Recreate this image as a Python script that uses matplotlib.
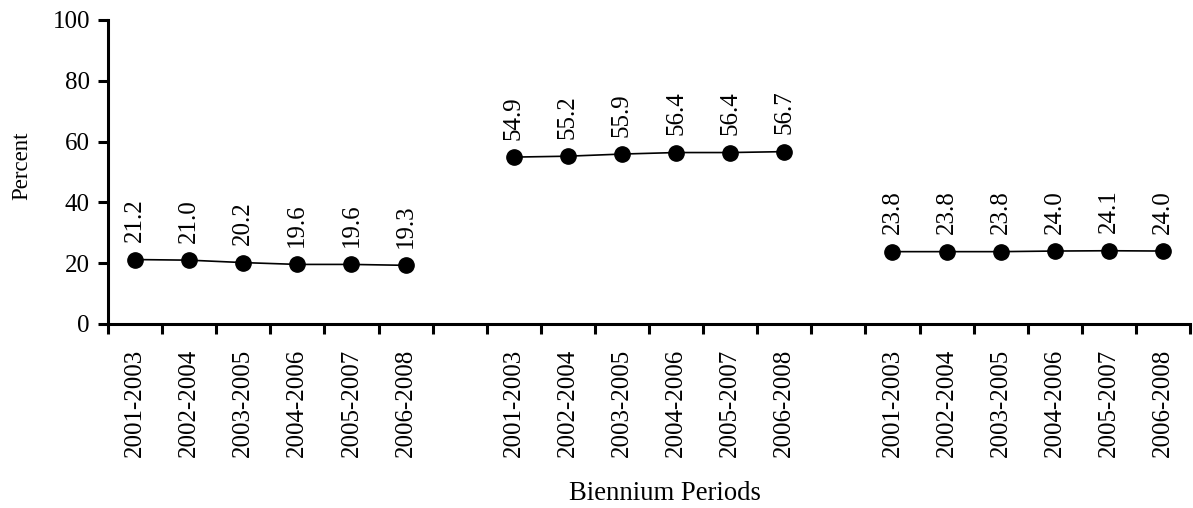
import matplotlib.pyplot as plt
import numpy as np

plt.rcParams['font.family'] = ['Liberation Serif', 'DejaVu Serif']

# data
periods = ['2001-2003', '2002-2004', '2003-2005', '2004-2006', '2005-2007', '2006-2008']
group1 = [21.2, 21.0, 20.2, 19.6, 19.6, 19.3]
group2 = [54.9, 55.2, 55.9, 56.4, 56.4, 56.7]
group3 = [23.8, 23.8, 23.8, 24.0, 24.1, 24.0]
groups = [group1, group2, group3]

n = len(periods)
step = n + 1  # one empty category between groups
n_slots = step * len(groups) - 1

W, H = 1193, 508
fig = plt.figure(figsize=(W / 100, H / 100), dpi=100)
ax = fig.add_axes([108 / W, 184 / H, 1082 / W, 304 / H])

fs = 18
for g, vals in enumerate(groups):
    xs = np.arange(n) + g * step
    ax.plot(xs, vals, color='black', lw=1.2, marker='o', markersize=11,
            markerfacecolor='black', markeredgecolor='black', zorder=3)
    for x, v in zip(xs, vals):
        ax.annotate(f'{v:.1f}', (x, v), xytext=(0, 12.5), textcoords='offset points',
                    rotation=90, ha='center', va='bottom', fontsize=fs)

# category axis with an empty slot between groups
labels = [''] * n_slots
for g in range(len(groups)):
    for i, p in enumerate(periods):
        labels[g * step + i] = p
ax.set_xticks(np.arange(n_slots))
ax.set_xticklabels(labels, rotation=90, fontsize=fs)
ax.set_xticks(np.arange(-0.5, n_slots, 1), minor=True)
ax.tick_params(axis='x', which='major', length=0, pad=18)
ax.tick_params(axis='x', which='minor', length=7, width=2.2, direction='out')
ax.set_xlim(-0.5, n_slots - 0.5)

ax.set_ylim(0, 100)
ax.set_yticks(np.arange(0, 101, 20))
ax.tick_params(axis='y', length=7, width=2.2, direction='out', labelsize=fs, pad=6)

for s in ['top', 'right']:
    ax.spines[s].set_visible(False)
for s in ['left', 'bottom']:
    ax.spines[s].set_linewidth(2.2)

fig.text(665 / W, 1.5 / H, 'Biennium Periods', fontsize=19.2, ha='center', va='bottom')
fig.text(22 / W, 1 - 166 / H, 'Percent', fontsize=16.5, rotation=90, ha='center', va='center')

plt.savefig('out.png', dpi=100)
